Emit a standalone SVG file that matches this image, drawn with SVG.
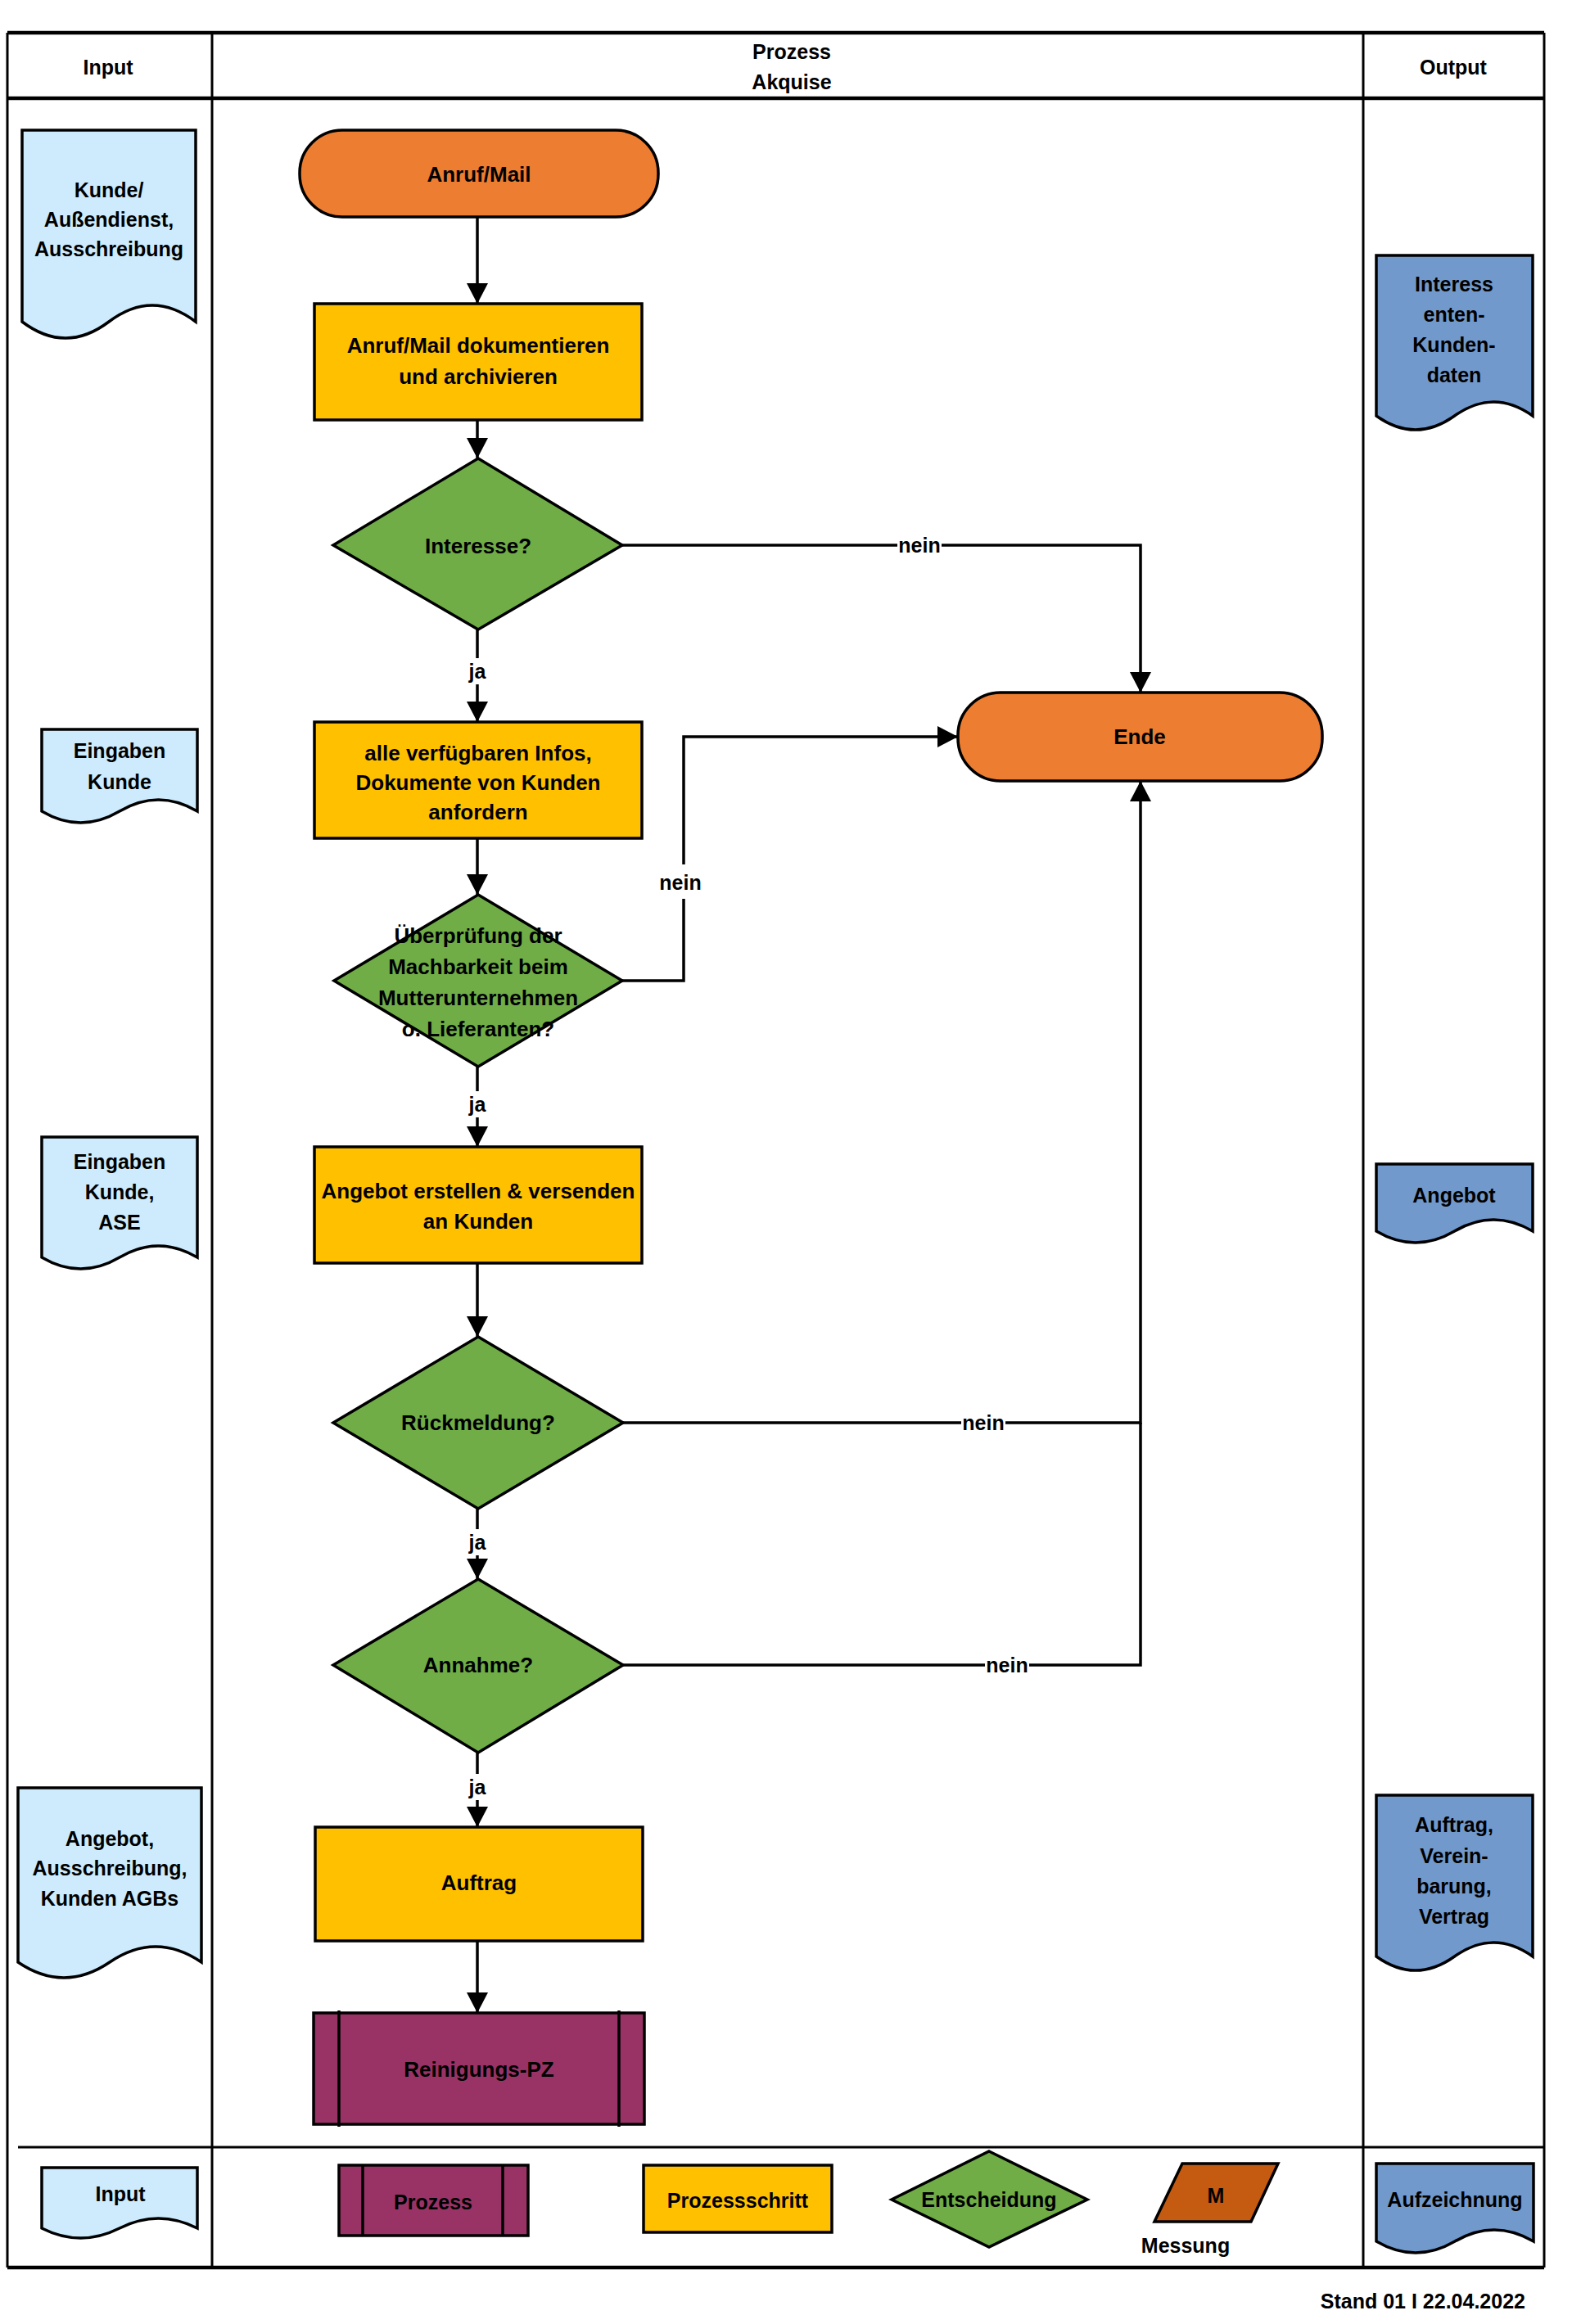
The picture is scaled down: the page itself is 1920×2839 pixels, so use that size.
<svg xmlns="http://www.w3.org/2000/svg" width="1920" height="2839" viewBox="0 0 1920 2839">
<style>
text{font-family:"Liberation Sans",Arial,sans-serif;font-weight:bold;fill:#000;text-anchor:middle}
.t{font-size:26px}
.d{font-size:25px}
.l{font-size:25px}
.h{font-size:25px}
.frame{stroke:#000;stroke-width:3;fill:none}
.thick{stroke:#000;stroke-width:4.5;fill:none}
.term{fill:#ED7D31;stroke:#000;stroke-width:3.5}
.step{fill:#FFC000;stroke:#000;stroke-width:3.5}
.dec{fill:#70AD47;stroke:#000;stroke-width:3.5}
.proc{fill:#993366;stroke:#000;stroke-width:3.5}
.din{fill:#CDEBFD;stroke:#000;stroke-width:3.5}
.dout{fill:#7299CC;stroke:#000;stroke-width:3.5}
.meas{fill:#C55A11;stroke:#000;stroke-width:3.5}
.c{fill:none;stroke:#000;stroke-width:3.5}
.bg{fill:#fff}
</style>
<defs>
<marker id="arr" markerUnits="userSpaceOnUse" markerWidth="26" markerHeight="26" refX="25" refY="13" orient="auto">
<path d="M0,0 L25,13 L0,26 Z" fill="#000"/>
</marker>
</defs>
<rect x="0" y="0" width="1920" height="2839" fill="#fff"/>

<g id="frame">
<line class="frame" x1="9" y1="40" x2="9" y2="2770"/>
<line class="frame" x1="259" y1="40" x2="259" y2="2770"/>
<line class="frame" x1="1665" y1="40" x2="1665" y2="2770"/>
<line class="frame" x1="1886" y1="40" x2="1886" y2="2770"/>
<line class="thick" x1="9" y1="40" x2="1886" y2="40"/>
<line class="thick" x1="9" y1="120" x2="1886" y2="120"/>
<line class="frame" x1="22" y1="2623" x2="1886" y2="2623"/>
<line class="thick" x1="9" y1="2770" x2="1886" y2="2770"/>
<text class="h" x="132" y="91">Input</text>
<text class="h" x="967" y="72">Prozess</text>
<text class="h" x="967" y="109">Akquise</text>
<text class="h" x="1775" y="91">Output</text>
</g>

<g id="connectors">
<path class="c" d="M583,265 V371" marker-end="url(#arr)"/>
<path class="c" d="M583,513 V560" marker-end="url(#arr)"/>
<path class="c" d="M583,769 V882" marker-end="url(#arr)"/>
<path class="c" d="M583,1024 V1093" marker-end="url(#arr)"/>
<path class="c" d="M583,1303 V1401" marker-end="url(#arr)"/>
<path class="c" d="M583,1543 V1633" marker-end="url(#arr)"/>
<path class="c" d="M583,1843 V1929" marker-end="url(#arr)"/>
<path class="c" d="M583,2141 V2232" marker-end="url(#arr)"/>
<path class="c" d="M583,2371 V2459" marker-end="url(#arr)"/>
<path class="c" d="M760,666 H1393 V846" marker-end="url(#arr)"/>
<path class="c" d="M760,1198 H835 V900 H1170" marker-end="url(#arr)"/>
<path class="c" d="M761,1738 H1393 V954" marker-end="url(#arr)"/>
<path class="c" d="M761,2034 H1393 V1738"/>
<rect class="bg" x="570" y="804" width="26" height="32"/>
<text class="l" x="583" y="829">ja</text>
<rect class="bg" x="570" y="1333" width="26" height="32"/>
<text class="l" x="583" y="1358">ja</text>
<rect class="bg" x="570" y="1868" width="26" height="32"/>
<text class="l" x="583" y="1893">ja</text>
<rect class="bg" x="570" y="2167" width="26" height="32"/>
<text class="l" x="583" y="2192">ja</text>
<rect class="bg" x="1096" y="652" width="54" height="28"/>
<text class="l" x="1123" y="675">nein</text>
<rect class="bg" x="803" y="1056" width="56" height="42"/>
<text class="l" x="831" y="1087">nein</text>
<rect class="bg" x="1174" y="1724" width="54" height="28"/>
<text class="l" x="1201" y="1747">nein</text>
<rect class="bg" x="1203" y="2020" width="54" height="28"/>
<text class="l" x="1230" y="2043">nein</text>
</g>

<g id="start">
<rect class="term" x="366" y="159" width="438" height="106" rx="52" ry="52"/>
<text class="t" x="585" y="222">Anruf/Mail</text>
</g>
<g id="step1">
<rect class="step" x="384" y="371" width="400" height="142"/>
<text class="t" x="584" y="431">Anruf/Mail dokumentieren</text>
<text class="t" x="584" y="469">und archivieren</text>
</g>
<g id="dec1">
<polygon class="dec" points="584,560 760,666 584,769 407,666"/>
<text class="t" x="584" y="676">Interesse?</text>
</g>
<g id="step2">
<rect class="step" x="384" y="882" width="400" height="142"/>
<text class="t" x="584" y="929">alle verfügbaren Infos,</text>
<text class="t" x="584" y="965">Dokumente von Kunden</text>
<text class="t" x="584" y="1001">anfordern</text>
</g>
<g id="dec2">
<polygon class="dec" points="584,1093 760,1198 584,1303 408,1198"/>
<text class="t" x="584" y="1152">Überprüfung der</text>
<text class="t" x="584" y="1190">Machbarkeit beim</text>
<text class="t" x="584" y="1228">Mutterunternehmen</text>
<text class="t" x="584" y="1266">o. Lieferanten?</text>
</g>
<g id="step3">
<rect class="step" x="384" y="1401" width="400" height="142"/>
<text class="t" x="584" y="1464">Angebot erstellen &amp; versenden</text>
<text class="t" x="584" y="1501">an Kunden</text>
</g>
<g id="dec3">
<polygon class="dec" points="584,1633 761,1738 584,1843 407,1738"/>
<text class="t" x="584" y="1747">Rückmeldung?</text>
</g>
<g id="dec4">
<polygon class="dec" points="584,1929 761,2034 584,2141 407,2034"/>
<text class="t" x="584" y="2043">Annahme?</text>
</g>
<g id="auftrag">
<rect class="step" x="385" y="2232" width="400" height="139"/>
<text class="t" x="585" y="2309">Auftrag</text>
</g>
<g id="reinigung">
<rect class="proc" x="383" y="2459" width="404" height="136"/>
<line class="c" x1="414" y1="2456" x2="414" y2="2598"/>
<line class="c" x1="756" y1="2456" x2="756" y2="2598"/>
<text class="t" x="585" y="2537">Reinigungs-PZ</text>
</g>
<g id="ende">
<rect class="term" x="1170" y="846" width="445" height="108" rx="52" ry="52"/>
<text class="t" x="1392" y="909">Ende</text>
</g>

<g id="in1">
<path class="din" d="M27,159 H239 V393 C203.7,366.3 168.3,366.3 133,393 C97.7,419.7 62.3,419.7 27,393 Z"/>
<text class="d" x="133" y="241">Kunde/</text>
<text class="d" x="133" y="277">Außendienst,</text>
<text class="d" x="133" y="313">Ausschreibung</text>
</g>
<g id="in2">
<path class="din" d="M51,891 H241 V991 C209.3,972.3 177.7,972.3 146,991 C114.3,1009.7 82.7,1009.7 51,991 Z"/>
<text class="d" x="146" y="926">Eingaben</text>
<text class="d" x="146" y="964">Kunde</text>
</g>
<g id="in3">
<path class="din" d="M51,1389 H241 V1536 C209.3,1517.3 177.7,1517.3 146,1536 C114.3,1554.7 82.7,1554.7 51,1536 Z"/>
<text class="d" x="146" y="1428">Eingaben</text>
<text class="d" x="146" y="1465">Kunde,</text>
<text class="d" x="146" y="1502">ASE</text>
</g>
<g id="in4">
<path class="din" d="M22,2184 H246 V2397 C208.7,2371.7 171.3,2371.7 134,2397 C96.7,2422.3 59.3,2422.3 22,2397 Z"/>
<text class="d" x="134" y="2255">Angebot,</text>
<text class="d" x="134" y="2291">Ausschreibung,</text>
<text class="d" x="134" y="2328">Kunden AGBs</text>
</g>

<g id="out1">
<path class="dout" d="M1681,312 H1872 V508 C1840.2,485.3 1808.3,485.3 1776.5,508 C1744.7,530.7 1712.8,530.7 1681,508 Z"/>
<text class="d" x="1776" y="356">Interess</text>
<text class="d" x="1776" y="393">enten-</text>
<text class="d" x="1776" y="430">Kunden-</text>
<text class="d" x="1776" y="467">daten</text>
</g>
<g id="out2">
<path class="dout" d="M1681,1422 H1872 V1504 C1840.2,1485.3 1808.3,1485.3 1776.5,1504 C1744.7,1522.7 1712.8,1522.7 1681,1504 Z"/>
<text class="d" x="1776" y="1469">Angebot</text>
</g>
<g id="out3">
<path class="dout" d="M1681,2193 H1872 V2390 C1840.2,2367.3 1808.3,2367.3 1776.5,2390 C1744.7,2412.7 1712.8,2412.7 1681,2390 Z"/>
<text class="d" x="1776" y="2238">Auftrag,</text>
<text class="d" x="1776" y="2276">Verein-</text>
<text class="d" x="1776" y="2313">barung,</text>
<text class="d" x="1776" y="2350">Vertrag</text>
</g>

<g id="legend">
<path class="din" d="M51,2648 H241 V2722 C209.3,2706 177.7,2706 146,2722 C114.3,2738 82.7,2738 51,2722 Z"/>
<text class="l" x="147" y="2689">Input</text>
<rect class="proc" x="414" y="2645" width="231" height="86"/>
<line class="c" x1="443" y1="2645" x2="443" y2="2731"/>
<line class="c" x1="614" y1="2645" x2="614" y2="2731"/>
<text class="l" x="529" y="2699">Prozess</text>
<rect class="step" x="786" y="2645" width="230" height="82"/>
<text class="l" x="901" y="2697">Prozessschritt</text>
<polygon class="dec" points="1208,2628 1328,2687 1208,2745 1089,2687"/>
<text class="l" x="1208" y="2696">Entscheidung</text>
<polygon class="meas" points="1444,2643 1561,2643 1528,2714 1410,2714"/>
<text class="l" x="1485" y="2691">M</text>
<text class="l" x="1448" y="2752">Messung</text>
<path class="dout" d="M1681,2643 H1873 V2738 C1841,2719.3 1809,2719.3 1777,2738 C1745,2756.7 1713,2756.7 1681,2738 Z"/>
<text class="l" x="1777" y="2696">Aufzeichnung</text>
<text class="l" x="1863" y="2820" style="text-anchor:end">Stand 01 I 22.04.2022</text>
</g>
</svg>
